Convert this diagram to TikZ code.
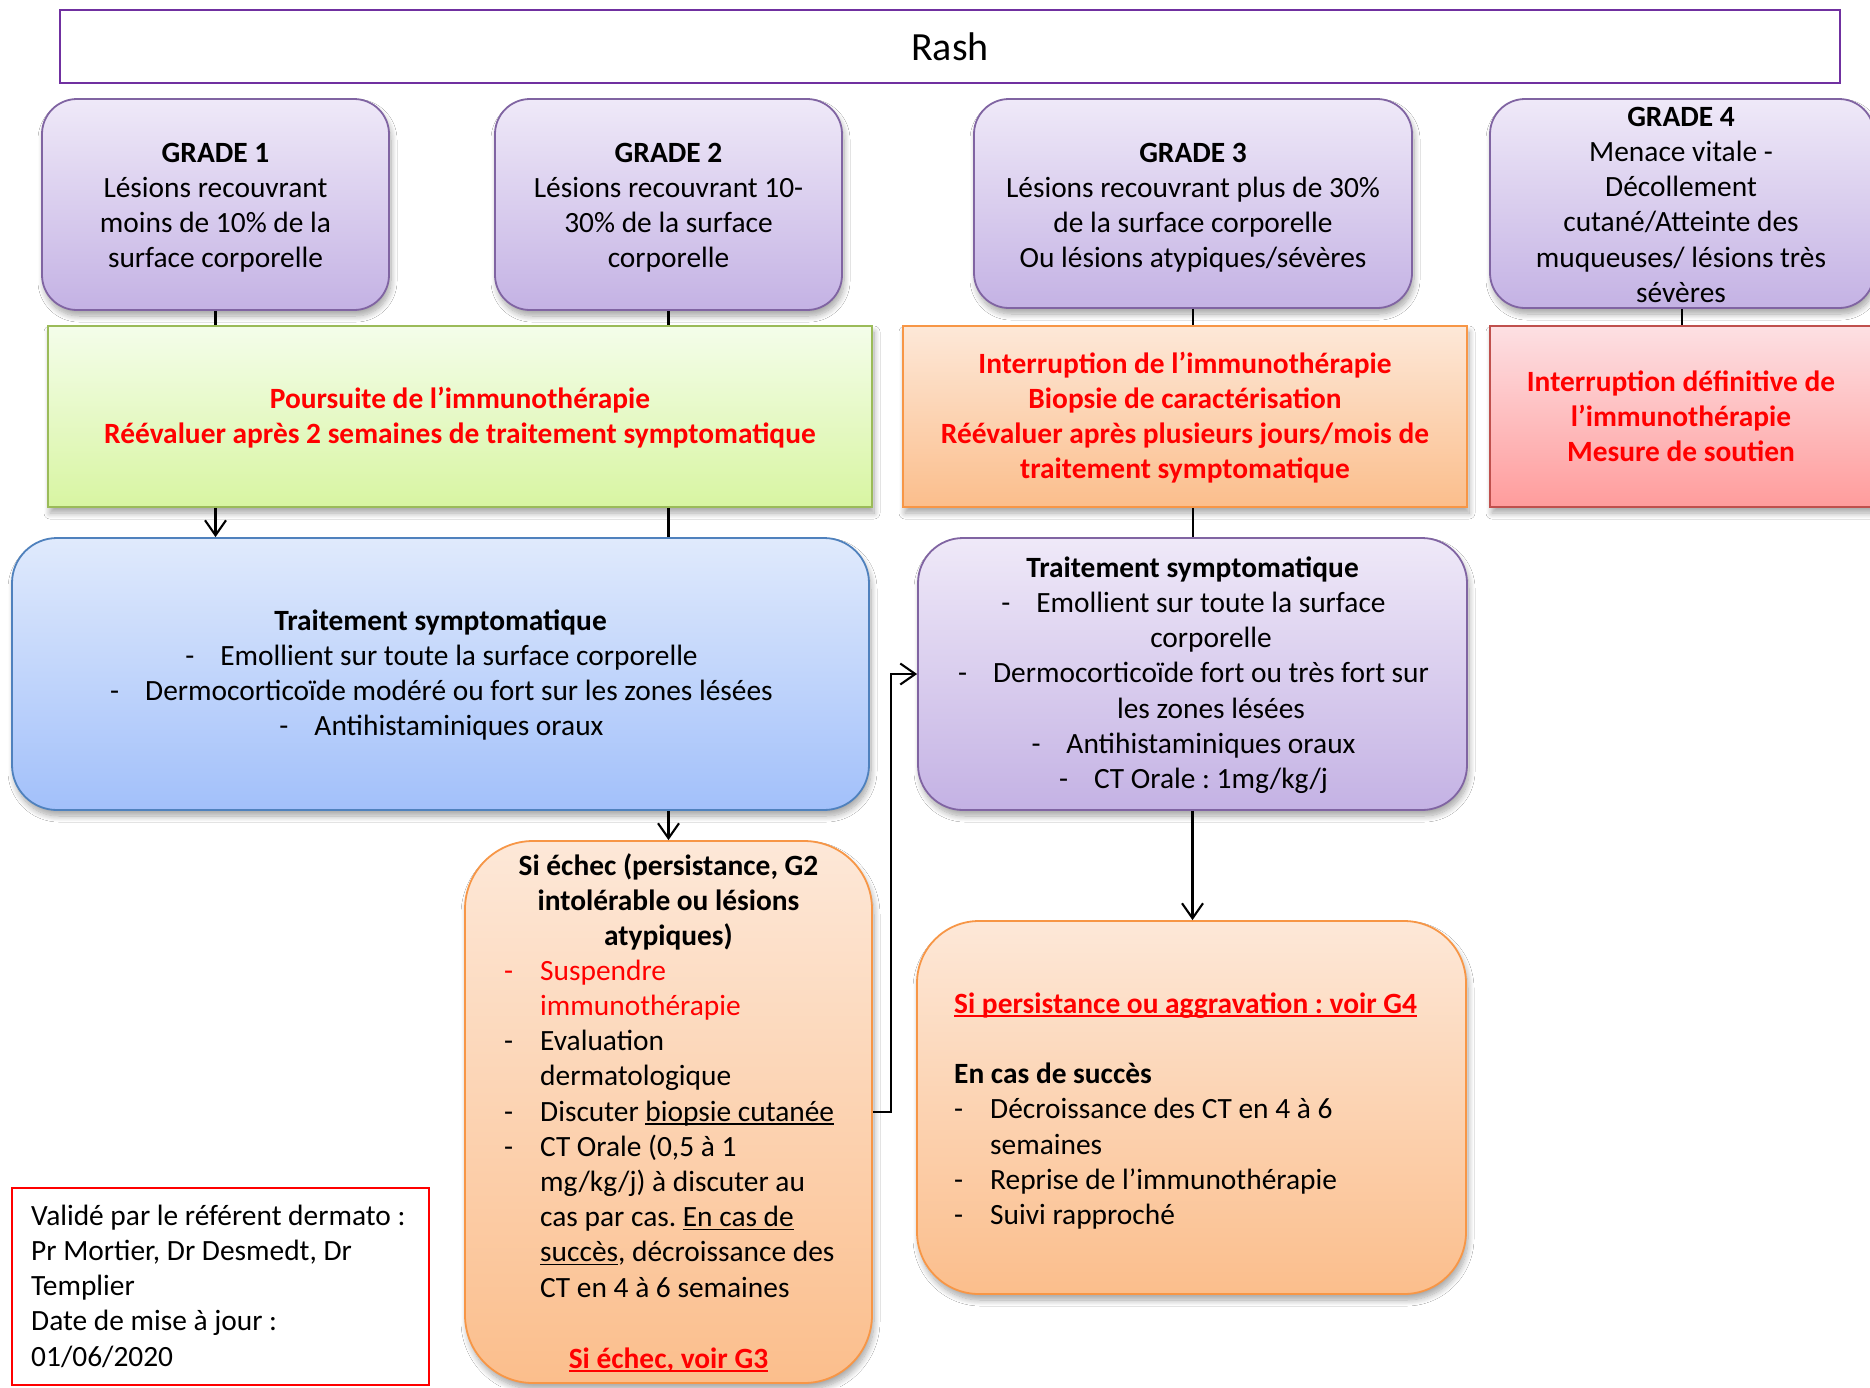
\documentclass[tikz,border=0pt]{standalone}
\usepackage{fontspec}
\setmainfont{Carlito}
\usetikzlibrary{arrows.meta,shadows.blur}
\frenchspacing

% palette
\definecolor{purpBorder}{HTML}{8064A2}
\definecolor{purpTop}{HTML}{EFE9F8}
\definecolor{purpBot}{HTML}{C4B2E4}
\definecolor{greenBorder}{HTML}{9BBB59}
\definecolor{greenTop}{HTML}{F4FDEA}
\definecolor{greenBot}{HTML}{D8F5A2}
\definecolor{orBorder}{HTML}{F79646}
\definecolor{orTop}{HTML}{FDE8D8}
\definecolor{orBot}{HTML}{FBBE8C}
\definecolor{redBorder}{HTML}{C0504D}
\definecolor{redTop}{HTML}{FDE0E3}
\definecolor{redBot}{HTML}{FF9C9C}
\definecolor{blueBorder}{HTML}{4F81BD}
\definecolor{blueTop}{HTML}{E0EAFC}
\definecolor{blueBot}{HTML}{A2C0FA}
\definecolor{rashBorder}{HTML}{7030A0}
\definecolor{alertRed}{HTML}{FF0000}

% underline that runs through the descenders
\newsavebox{\undlbox}
\newcommand{\undl}[1]{\sbox{\undlbox}{#1}\rlap{\rule[-3.5pt]{\wd\undlbox}{1.6pt}}\usebox{\undlbox}}
% list lines inside centred blocks
\newcommand{\citem}[1]{\hspace*{37pt}\llap{\makebox[35pt][l]{-}}#1}
\newcommand{\ccont}[1]{\hspace*{37pt}#1}
% list lines inside left-aligned blocks
\newcommand{\litem}[1]{\makebox[36pt][l]{-}#1}
\newcommand{\lcont}[1]{\hspace*{36pt}#1}

\tikzset{
  shadowed/.style={blur shadow={shadow xshift=2pt, shadow yshift=-6pt,
      shadow blur steps=10, shadow blur radius=6pt, shadow opacity=35}},
  box/.style={inner sep=0pt, line width=1.8pt, shadowed},
  gradebox/.style={box, draw=purpBorder, rounded corners=35pt,
      top color=purpTop, bottom color=purpBot},
  greenbox/.style={box, draw=greenBorder, top color=greenTop, bottom color=greenBot},
  orangebox/.style={box, draw=orBorder, top color=orTop, bottom color=orBot},
  redbox/.style={box, draw=redBorder, top color=redTop, bottom color=redBot},
  bluebox/.style={box, draw=blueBorder, rounded corners=45pt,
      top color=blueTop, bottom color=blueBot},
  purpbox/.style={box, draw=purpBorder, rounded corners=45pt,
      top color=purpTop, bottom color=purpBot},
  txt/.style={inner sep=0pt, font=\fontsize{29.4}{35.2}\selectfont, align=center, anchor=north},
  ltxt/.style={inner sep=0pt, font=\fontsize{29.4}{35.2}\selectfont, align=left, anchor=north west},
  alert/.style={text=alertRed, font=\fontsize{29.4}{35.2}\selectfont\bfseries},
  conn/.style={line width=2.1pt, draw=black},
  arr/.style={conn, -{Straight Barb[length=15pt,width=21pt,line width=2.1pt]}},
}

\begin{document}
\begin{tikzpicture}[x=1pt, y=-1pt]
\path[use as bounding box, fill=white] (0,0) rectangle (1870,1387);

% title bar
\node[draw=rashBorder, line width=1.8pt, fill=white, minimum width=1780pt,
      minimum height=73pt, inner sep=0pt, font=\fontsize{40}{48}\selectfont]
      (rash) at (950,46.5) {Rash};

% grade boxes
\node[gradebox, minimum width=347pt, minimum height=211pt] (g1) at (215.5,204.5) {};
\node[gradebox, minimum width=347pt, minimum height=211pt] (g2) at (668.5,204.5) {};
\node[gradebox, minimum width=438pt, minimum height=209pt] (g3) at (1193,203.5) {};
\node[gradebox, minimum width=384pt, minimum height=209pt] (g4) at (1682,203.5) {};

\node[txt] (t1) at (215.5,137.4) {\strut\textbf{GRADE 1}\\Lésions recouvrant\\moins de 10\% de la\\surface corporelle};
\node[txt] (t2) at (668.5,137.4) {\strut\textbf{GRADE 2}\\Lésions recouvrant 10-\\30\% de la surface\\corporelle};
\node[txt] (t3) at (1193,137.4) {\strut\textbf{GRADE 3}\\Lésions recouvrant plus de 30\%\\de la surface corporelle\\Ou lésions atypiques/sévères};
\node[txt] (t4) at (1681,101.4) {\strut\textbf{GRADE 4}\\Menace vitale -\\Décollement\\cutané/Atteinte des\\muqueuses/ lésions très\\sévères};

% decision boxes
\node[greenbox, minimum width=824pt, minimum height=181pt] (green) at (460,416.5) {};
\node[orangebox, minimum width=564pt, minimum height=181pt] (org3) at (1185,416.5) {};
\node[redbox, minimum width=384pt, minimum height=181pt] (red4) at (1682,416.5) {};

\node[txt, alert] (tg) at (460,383.4) {\strut Poursuite de l’immunothérapie\\Réévaluer après 2 semaines de traitement symptomatique};
\node[txt, alert] (to3) at (1185,348.4) {\strut Interruption de l’immunothérapie\\Biopsie de caractérisation\\Réévaluer après plusieurs jours/mois de\\traitement symptomatique};
\node[txt, alert] (tr4) at (1681,366.4) {\strut Interruption définitive de\\l’immunothérapie\\Mesure de soutien};

% treatment boxes
\node[bluebox, minimum width=857pt, minimum height=272pt] (blue) at (440.5,674) {};
\node[purpbox, minimum width=549pt, minimum height=272pt] (purp) at (1192.5,674) {};

\node[txt] (tb) at (440.5,605.4) {\strut\textbf{Traitement symptomatique}\\
  \citem{Emollient sur toute la surface corporelle}\\
  \citem{Dermocorticoïde modéré ou fort sur les zones lésées}\\
  \citem{Antihistaminiques oraux}};
\node[txt] (tp) at (1192.5,552.4) {\strut\textbf{Traitement symptomatique}\\
  \citem{Emollient sur toute la surface}\\
  \ccont{corporelle}\\
  \citem{Dermocorticoïde fort ou très fort sur}\\
  \ccont{les zones lésées}\\
  \citem{Antihistaminiques oraux}\\
  \citem{CT Orale : 1mg/kg/j}};

% failure / follow-up boxes
\node[orangebox, rounded corners=68pt, minimum width=407pt, minimum height=542pt] (siechec) at (668.5,1112) {};
\node[orangebox, rounded corners=62pt, minimum width=549pt, minimum height=373pt] (orgR) at (1191.5,1107.5) {};

\node[txt] (tst) at (668.5,850.4) {\strut\textbf{Si échec (persistance, G2}\\\textbf{intolérable ou lésions}\\\textbf{atypiques)}};
\node[ltxt] (tsi) at (504,955.4) {\strut{\color{alertRed}\litem{Suspendre}}\\
  {\color{alertRed}\lcont{immunothérapie}}\\
  \litem{Evaluation}\\
  \lcont{dermatologique}\\
  \litem{Discuter \undl{biopsie cutanée}}\\
  \litem{CT Orale (0,5 à 1}\\
  \lcont{mg/kg/j) à discuter au}\\
  \lcont{cas par cas. \undl{En cas de}}\\
  \lcont{\undl{succès}, décroissance des}\\
  \lcont{CT en 4 à 6 semaines}};
\node[alert, inner sep=0pt, anchor=base] (tg3) at (668.5,1368) {\undl{Si échec, voir G3}};

\node[ltxt] (tR) at (954,988.4) {\strut{\color{alertRed}\bfseries\undl{Si persistance ou aggravation : voir G4}}\\[35.2pt]
  \textbf{En cas de succès}\\
  \litem{Décroissance des CT en 4 à 6}\\
  \lcont{semaines}\\
  \litem{Reprise de l’immunothérapie}\\
  \litem{Suivi rapproché}};

% validation note
\node[draw=alertRed, line width=1.8pt, fill=white, minimum width=417pt,
      minimum height=197pt, inner sep=0pt] (valide) at (220.5,1286.5) {};
\node[ltxt] (tv) at (31,1200.4) {\strut Validé par le référent dermato :\\Pr Mortier, Dr Desmedt, Dr\\Templier\\Date de mise à jour :\\01/06/2020};

% connectors
\draw[conn] (g1.south) -- (g1.south |- green.north);
\draw[conn] (g2.south) -- (g2.south |- green.north);
\draw[conn] (g3.south) -- (g3.south |- org3.north);
\draw[conn] (g4.south) -- (g4.south |- red4.north);
\draw[arr] (green.south -| g1.south) -- (g1.south |- blue.north);
\draw[conn] (green.south -| g2.south) -- (g2.south |- blue.north);
\draw[conn] (org3.south -| g3.south) -- (g3.south |- purp.north);
\draw[arr] (blue.south -| g2.south) -- (g2.south |- siechec.north);
\draw[arr] (purp.south) -- (purp.south |- orgR.north);
\coordinate (bend) at ([xshift=18pt]siechec.east);
\draw[arr] (siechec.east) -- (bend) |- (purp.west);
\end{tikzpicture}
\end{document}
